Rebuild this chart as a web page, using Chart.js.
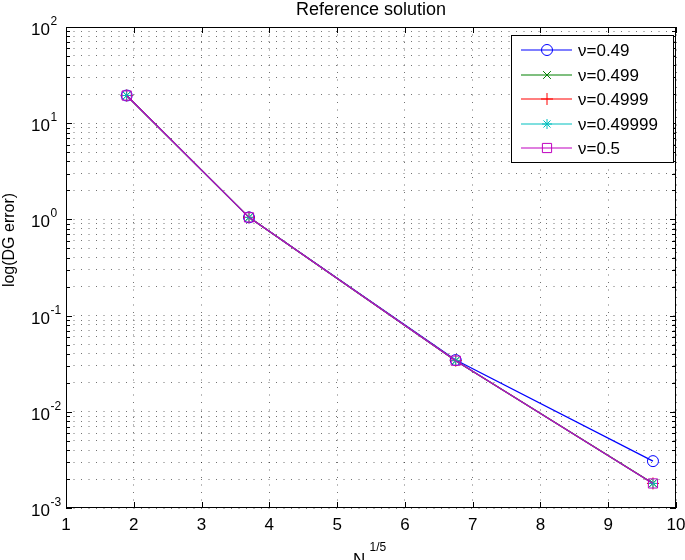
<!DOCTYPE html>
<html>
<head>
<meta charset="utf-8">
<title>Reference solution</title>
<script src="https://cdn.jsdelivr.net/npm/chart.js"></script>
<style>
  html, body { margin: 0; padding: 0; background: #fff; }
  #chart { display: block; }
</style>
</head>
<body>
<canvas id="chart" width="685" height="560"></canvas>
<script>
const FONT = '"Liberation Sans", Arial, Helvetica, sans-serif'

// N^(1/5) positions of the four runs
const nValues = [1.895, 3.70, 6.75, 9.66]

// DG error for each Poisson ratio
const nu049 = [19.4, 1.05, 0.0345, 0.00307]
const nu0499 = [19.4, 1.05, 0.034, 0.00181]
const nu04999 = [19.4, 1.05, 0.034, 0.0018]
const nu049999 = [19.4, 1.05, 0.034, 0.0018]
const nu05 = [19.4, 1.05, 0.034, 0.0018]

const seriesLabels = ['ν=0.49', 'ν=0.499', 'ν=0.4999', 'ν=0.49999', 'ν=0.5']
const seriesValues = [nu049, nu0499, nu04999, nu049999, nu05]

const xTickLabels = ['1', '2', '3', '4', '5', '6', '7', '8', '9', '10']
const yDecades = [-3, -2, -1, 0, 1, 2]
const yExponentLabels = ['-3', '-2', '-1', '0', '1', '2']

// matlab-ish line specs
const styles = [
  { color: '#0000ff', pointStyle: 'circle', radius: 5.5 },
  { color: '#008000', pointStyle: 'crossRot', radius: 5.5 },
  { color: '#ff0000', pointStyle: 'cross', radius: 6 },
  { color: '#00bfbf', pointStyle: 'star', radius: 5 },
  { color: '#bf00bf', pointStyle: 'rect', radius: 6.5 }
]

// log grid: 1..9 in every decade
const yGridValues = []
for (let k = yDecades[0]; k < yDecades[yDecades.length - 1]; k++) {
  for (let m = 1; m < 10; m++) yGridValues.push(m * Math.pow(10, k))
}
yGridValues.push(Math.pow(10, yDecades[yDecades.length - 1]))

// later series are plotted on top, like matlab's hold on
const datasets = seriesValues.map((values, i) => ({
  label: seriesLabels[i],
  data: values.map((v, j) => ({ x: nValues[j], y: v })),
  order: seriesValues.length - i,
  borderColor: styles[i].color,
  borderWidth: 1.2,
  pointStyle: styles[i].pointStyle,
  pointRadius: styles[i].radius,
  pointBorderColor: styles[i].color,
  pointBackgroundColor: 'rgba(0,0,0,0)',
  pointBorderWidth: 1,
  fill: false,
  tension: 0
}))

const drawMarker = (ctx, style, x, y) => {
  if (Chart.helpers && Chart.helpers.drawPoint) {
    Chart.helpers.drawPoint(ctx, { pointStyle: style.pointStyle, radius: style.radius, borderWidth: 1, rotation: 0 }, x, y)
    return
  }
  ctx.beginPath()
  ctx.arc(x, y, style.radius, 0, Math.PI * 2)
  ctx.stroke()
}

const axesDecor = {
  id: 'axesDecor',
  afterDraw (chart) {
    const { ctx, chartArea: a, scales: { x, y } } = chart
    ctx.save()
    ctx.strokeStyle = '#000'
    ctx.lineWidth = 1

    // inward ticks
    ctx.beginPath()
    xTickLabels.forEach((t, i) => {
      const px = Math.round(x.getPixelForValue(i + 1)) + 0.5
      ctx.moveTo(px, a.bottom); ctx.lineTo(px, a.bottom - 6)
      ctx.moveTo(px, a.top); ctx.lineTo(px, a.top + 6)
    })
    yGridValues.forEach(v => {
      const py = Math.round(y.getPixelForValue(v)) + 0.5
      const major = Math.abs(Math.log10(v) - Math.round(Math.log10(v))) < 1e-9
      const len = major ? 6 : 4
      ctx.moveTo(a.left, py); ctx.lineTo(a.left + len, py)
      ctx.moveTo(a.right, py); ctx.lineTo(a.right - len, py)
    })
    ctx.stroke()

    // box
    ctx.strokeRect(Math.round(a.left) + 0.5, Math.round(a.top) + 0.5, Math.round(a.width) - 1, Math.round(a.height) - 1)

    ctx.fillStyle = '#000'
    // x tick labels
    ctx.font = '17px ' + FONT
    ctx.textAlign = 'center'
    ctx.textBaseline = 'alphabetic'
    xTickLabels.forEach((t, i) => {
      ctx.fillText(t, x.getPixelForValue(i + 1), a.bottom + 22)
    })

    // y tick labels 10^k
    yDecades.forEach((k, i) => {
      const py = y.getPixelForValue(Math.pow(10, k))
      ctx.font = '17px ' + FONT
      ctx.textAlign = 'right'
      ctx.fillText('10', 50, py + 8)
      ctx.font = '12px ' + FONT
      ctx.textAlign = 'left'
      ctx.fillText(yExponentLabels[i], 50.5, py - 2)
    })

    // title
    ctx.font = '18px ' + FONT
    ctx.textAlign = 'center'
    ctx.fillText('Reference solution', (a.left + a.right) / 2, 15)

    // x axis title N^{1/5}
    ctx.font = '17px ' + FONT
    ctx.textAlign = 'left'
    ctx.fillText('N', 353, 565)
    ctx.font = '12px ' + FONT
    ctx.fillText('1/5', 369.5, 551)

    // y axis title
    ctx.save()
    ctx.translate(10, 240)
    ctx.rotate(-Math.PI / 2)
    ctx.font = '16px ' + FONT
    ctx.textAlign = 'center'
    ctx.textBaseline = 'middle'
    ctx.fillText('log(DG error)', 0, 0)
    ctx.restore()

    // legend box
    const lx = 511; const ly = 35; const lw = 162; const lh = 127
    ctx.fillStyle = '#fff'
    ctx.fillRect(lx, ly, lw, lh)
    ctx.strokeStyle = '#000'
    ctx.strokeRect(lx + 0.5, ly + 0.5, lw, lh)
    const rows = [50, 75, 99, 124, 148]
    chart.data.datasets.forEach((ds, i) => {
      const ry = rows[i]
      ctx.strokeStyle = styles[i].color
      ctx.lineWidth = 1.2
      ctx.beginPath()
      ctx.moveTo(lx + 10, ry); ctx.lineTo(lx + 61, ry)
      ctx.stroke()
      ctx.lineWidth = 1
      ctx.fillStyle = 'rgba(0,0,0,0)'
      drawMarker(ctx, styles[i], lx + 36, ry)
      ctx.fillStyle = '#000'
      ctx.font = '17px ' + FONT
      ctx.textAlign = 'left'
      ctx.textBaseline = 'middle'
      ctx.fillText(ds.label, lx + 67, ry + 1)
      ctx.textBaseline = 'alphabetic'
    })
    ctx.restore()
  }
}

const gridStyle = { color: 'rgba(0,0,0,0.55)', lineWidth: 1, drawTicks: false, borderDash: [1, 6.5] }
const borderStyle = { display: false, dash: [1, 6.5] }

new Chart(document.getElementById('chart'), {
  type: 'line',
  data: { datasets },
  options: {
    responsive: false,
    animation: false,
    events: [],
    layout: { padding: { left: 66, top: 27, right: 9, bottom: 52 } },
    plugins: { legend: { display: false }, title: { display: false }, tooltip: { enabled: false } },
    scales: {
      x: {
        type: 'linear',
        min: 1,
        max: 10,
        ticks: { display: false, stepSize: 1 },
        grid: gridStyle,
        border: borderStyle,
        afterFit: s => { s.height = 0 }
      },
      y: {
        type: 'logarithmic',
        min: 0.001,
        max: 100,
        ticks: { display: false },
        afterBuildTicks: s => { s.ticks = yGridValues.map(v => ({ value: v })) },
        grid: gridStyle,
        border: borderStyle,
        afterFit: s => { s.width = 0 }
      }
    }
  },
  plugins: [axesDecor]
})
</script>
</body>
</html>
